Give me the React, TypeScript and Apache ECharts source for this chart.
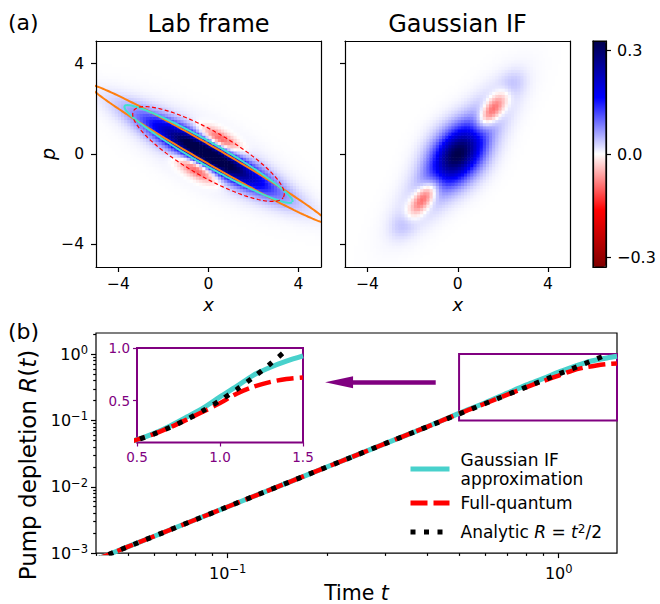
import React, { useEffect, useRef } from 'react';
import * as echarts from 'echarts';

const FONT = 'DejaVu Sans';
const PURPLE = '#800080';

// ---------- Panel (a): Wigner functions, described by Gaussian components
// [centerX, centerP, angleDeg, sigmaAlong, sigmaAcross, amplitude]
const LAB_BLOBS = [
  [0, 0, -29, 2.1, 0.38, 0.33],
  [0, 0, -29, 2.2, 0.7, 0.06],
  [0.5, 0.65, -29, 0.7, 0.25, -0.15],
  [-0.5, -0.65, -29, 0.7, 0.25, -0.15],
];
const IF_BLOBS = [
  [0, 0, 52, 0.9, 0.7, 0.21],
  [0, 0, 52, 2.0, 0.62, 0.12],
  [1.51, 1.93, 52, 0.65, 0.28, -0.15],
  [-1.51, -1.93, 52, 0.65, 0.28, -0.15],
  [2.42, 3.1, 52, 0.45, 0.35, 0.03],
  [-2.42, -3.1, 52, 0.45, 0.35, 0.03],
];
const CELL = 10 / 72;
const PHASE_RANGE = [-5, 5];
const PHASE_TICKS = [-4, 0, 4];
// ellipses in the lab frame: [semiMajor, semiMinor, angleDeg]
const ORANGE_ELLIPSE = [6.1, 0.38, -29.9];
const CYAN_ELLIPSE = [4.29, 0.5, -29.6];
const RED_ELLIPSE = [3.84, 1.0, -29.8];

const CBAR_RANGE = [-0.3275, 0.3275];
const CBAR_TICKS = [-0.3, 0, 0.3];

// ---------- Panel (b): pump depletion
const T_VALUES = [0.04, 0.05, 0.07, 0.1, 0.15, 0.2, 0.3, 0.4, 0.5, 0.6, 0.7, 0.8, 0.9, 1.0, 1.1, 1.2, 1.3, 1.4, 1.5];
const R_GAUSSIAN = [0.0008, 0.00125, 0.00245, 0.005, 0.01125, 0.02, 0.045, 0.08, 0.128, 0.185, 0.258, 0.343, 0.43, 0.535, 0.635, 0.74, 0.815, 0.875, 0.925];
const R_FULL = [0.0008, 0.00125, 0.00245, 0.005, 0.01125, 0.02, 0.045, 0.08, 0.127, 0.18, 0.245, 0.318, 0.395, 0.475, 0.565, 0.63, 0.675, 0.705, 0.72];
const T_ANALYTIC = [0.04, 0.05, 0.07, 0.1, 0.15, 0.2, 0.3, 0.4, 0.5, 0.6, 0.7, 0.8, 0.9, 1.0, 1.1, 1.2, 1.3, 1.4, 1.414];
const R_ANALYTIC = [0.0008, 0.00125, 0.00245, 0.005, 0.01125, 0.02, 0.045, 0.08, 0.125, 0.18, 0.245, 0.32, 0.405, 0.5, 0.605, 0.72, 0.845, 0.98, 1.0];

const T_RANGE = [0.04, 1.5];
const R_RANGE = [0.001, 2.08];
const T_MAJOR = [0.1, 1];
const T_MINOR = [0.04, 0.05, 0.06, 0.07, 0.08, 0.09, 0.2, 0.3, 0.4, 0.5, 0.6, 0.7, 0.8, 0.9];
const R_MAJOR = [0.001, 0.01, 0.1, 1];
const R_MINOR = [0.002, 0.003, 0.004, 0.005, 0.006, 0.007, 0.008, 0.009, 0.02, 0.03, 0.04, 0.05, 0.06, 0.07, 0.08, 0.09, 0.2, 0.3, 0.4, 0.5, 0.6, 0.7, 0.8, 0.9, 2];

const INSET_T_RANGE = [0.5, 1.5];
const INSET_R_RANGE = [0.1, 1.0];
const INSET_T_TICKS = [0.5, 1.0, 1.5];
const INSET_R_TICKS = [0.5, 1.0];

const ARROW_FROM = [0.425, 0.376];
const ARROW_TO = [0.217, 0.376];

const NAMES = ['Gaussian IF approximation', 'Full-quantum', 'Analytic R = t^2/2'];

function buildField(blobs: number[][]) {
  const out: number[][] = [];
  const n = Math.round((PHASE_RANGE[1] - PHASE_RANGE[0]) / CELL);
  for (let i = 0; i < n; i++) {
    for (let j = 0; j < n; j++) {
      const x = PHASE_RANGE[0] + CELL * (i + 0.5);
      const p = PHASE_RANGE[0] + CELL * (j + 0.5);
      let w = 0;
      for (const [cx, cp, ang, su, sv, amp] of blobs) {
        const th = (ang * Math.PI) / 180;
        const dx = x - cx, dp = p - cp;
        const u = dx * Math.cos(th) + dp * Math.sin(th);
        const v = -dx * Math.sin(th) + dp * Math.cos(th);
        w += amp * Math.exp(-(u * u) / (2 * su * su) - (v * v) / (2 * sv * sv));
      }
      out.push([x, p, w]);
    }
  }
  return out;
}

function ellipse(e: number[]) {
  const [a, b, ang] = e;
  const th = (ang * Math.PI) / 180;
  const pts: number[][] = [];
  for (let k = 0; k <= 240; k++) {
    const s = (2 * Math.PI * k) / 240;
    const u = a * Math.cos(s), v = b * Math.sin(s);
    pts.push([u * Math.cos(th) - v * Math.sin(th), u * Math.sin(th) + v * Math.cos(th)]);
  }
  return pts;
}

const minus = (v: number) => (v < 0 ? '\u2212' + String(Math.abs(v)) : String(v));
const minus1 = (v: number) => (Math.abs(v) < 1e-9 ? '0.0' : v < 0 ? '\u2212' + Math.abs(v).toFixed(1) : v.toFixed(1));
const pow10 = (v: number) => {
  const e = Math.round(Math.log10(v));
  return `{b|10}{s|${e < 0 ? '\u2212' + -e : e}}`;
};
const powRich = {
  b: { fontSize: 16, fontFamily: FONT, color: '#000', lineHeight: 20 },
  s: { fontSize: 11.5, fontFamily: FONT, color: '#000', verticalAlign: 'top', lineHeight: 12 },
};

const heatRender = (params: any, api: any) => {
  const x = api.value(0), p = api.value(1);
  const a = api.coord([x - CELL / 2, p + CELL / 2]);
  const b = api.coord([x + CELL / 2, p - CELL / 2]);
  return {
    type: 'rect',
    shape: { x: a[0], y: a[1], width: b[0] - a[0] + 0.6, height: b[1] - a[1] + 0.6 },
    style: { fill: api.visual('color') },
  };
};

const lineBlack = { color: '#000', width: 1.2 };

function phaseX(gridIndex: number, pos: string, withTicks: boolean) {
  return {
    type: 'value', gridIndex, min: PHASE_RANGE[0], max: PHASE_RANGE[1], position: pos, z: 5,
    axisLine: { show: true, onZero: false, lineStyle: lineBlack },
    axisTick: { show: withTicks, length: 5, customValues: PHASE_TICKS, lineStyle: lineBlack },
    axisLabel: { show: withTicks, customValues: PHASE_TICKS, formatter: minus, margin: 9, lineHeight: 16, color: '#000', fontSize: 15.5, fontFamily: FONT },
    splitLine: { show: false },
    name: withTicks ? 'x' : '', nameLocation: 'middle', nameGap: 30,
    nameTextStyle: { fontSize: 18, lineHeight: 15, fontStyle: 'italic', fontFamily: FONT, color: '#000' },
  };
}
function phaseY(gridIndex: number, pos: string, withTicks: boolean, withLabels: boolean) {
  return {
    type: 'value', gridIndex, min: PHASE_RANGE[0], max: PHASE_RANGE[1], position: pos, z: 5,
    axisLine: { show: true, onZero: false, lineStyle: lineBlack },
    axisTick: { show: withTicks, length: 5, customValues: PHASE_TICKS, lineStyle: lineBlack },
    axisLabel: { show: withLabels, customValues: PHASE_TICKS, formatter: minus, margin: 12, color: '#000', fontSize: 15.5, fontFamily: FONT },
    splitLine: { show: false },
    name: withLabels ? 'p' : '', nameLocation: 'middle', nameGap: 25,
    nameTextStyle: { fontSize: 19, fontStyle: 'italic', fontFamily: FONT, color: '#000' },
  };
}
function cbarAxis(kind: 'x' | 'y', pos: string, ticks: boolean) {
  return {
    type: 'value', gridIndex: 2, position: pos, z: 10,
    min: kind === 'y' ? CBAR_RANGE[0] : 0, max: kind === 'y' ? CBAR_RANGE[1] : 1,
    axisLine: { show: true, onZero: false, lineStyle: lineBlack },
    axisTick: { show: ticks, length: 5, customValues: CBAR_TICKS, lineStyle: lineBlack },
    axisLabel: { show: ticks, customValues: CBAR_TICKS, formatter: minus1, margin: 11, color: '#000', fontSize: 16, fontFamily: FONT },
    splitLine: { show: false },
  };
}
function logAxis(range: number[], major: boolean, ticks: number[], pos: string, name: string, nameGap: number, nameSize: number, namePadding: number[]) {
  return {
    type: 'log', gridIndex: 3, min: range[0], max: range[1], position: pos,
    axisLine: { show: false },
    axisTick: { show: true, length: major ? 5 : 2.8, customValues: ticks, lineStyle: lineBlack },
    axisLabel: { show: major, customValues: ticks, formatter: pow10, rich: powRich, margin: pos === 'bottom' ? 10 : 8 },
    splitLine: { show: false }, minorTick: { show: false },
    name: major ? name : '', nameLocation: 'middle', nameGap,
    nameTextStyle: {
      fontSize: nameSize, fontFamily: FONT, color: '#000', padding: namePadding,
      rich: { i: { fontStyle: 'italic', fontSize: nameSize, fontFamily: FONT, color: '#000' } },
    },
  };
}
function insetAxis(range: number[], ticks: number[], pos: string) {
  return {
    type: 'value', gridIndex: 4, min: range[0], max: range[1], position: pos,
    axisLine: { show: false },
    axisTick: { show: true, length: 4, customValues: ticks, lineStyle: { color: PURPLE, width: 1.2 } },
    axisLabel: { show: true, customValues: ticks, formatter: (v: number) => v.toFixed(1), margin: 7, color: PURPLE, fontSize: 13.5, fontFamily: FONT },
    splitLine: { show: false },
  };
}

const zip = (a: number[], b: number[]) => a.map((v, i) => [v, b[i]]);

const legendBase = (name: string, top: number, text: string, type: any) => ({
  data: [name], left: 408, top, orient: 'vertical', padding: 0, itemWidth: 39, itemHeight: 14, selectedMode: false,
  formatter: () => text,
  textStyle: {
    fontSize: 17, lineHeight: 19, fontFamily: FONT, color: '#000', padding: [0, 0, 0, 6],
    rich: {
      i: { fontSize: 17, fontStyle: 'italic', fontFamily: FONT, color: '#000', lineHeight: 19 },
      s: { fontSize: 12, fontFamily: FONT, color: '#000', verticalAlign: 'top', lineHeight: 12 },
    },
  },
  itemStyle: { opacity: 0, borderWidth: 0 },
  lineStyle: { width: 5, type, cap: 'butt' },
});

export default function App() {
  const ref = useRef<HTMLDivElement>(null);
  useEffect(() => {
    if (!ref.current) return;
    const chart = echarts.init(ref.current, null, { renderer: 'svg' });
    const labField = buildField(LAB_BLOBS);
    const ifField = buildField(IF_BLOBS);

    const option: any = {
      animation: false,
      backgroundColor: '#fff',
      textStyle: { fontFamily: FONT },
      grid: [
        { left: 96, top: 41, width: 225, height: 226 },
        { left: 345, top: 41, width: 225.5, height: 226 },
        { left: 593, top: 41, width: 13, height: 226 },
        { left: 96, top: 333, width: 521, height: 226, show: true, borderColor: '#000', borderWidth: 1.2, backgroundColor: 'transparent' },
        { left: 137, top: 348, width: 166, height: 94.5, show: true, borderColor: PURPLE, borderWidth: 2, backgroundColor: '#fff' },
      ],
      xAxis: [
        phaseX(0, 'bottom', true),
        phaseX(0, 'top', false),
        phaseX(1, 'bottom', true),
        phaseX(1, 'top', false),
        cbarAxis('x', 'bottom', false),
        cbarAxis('x', 'top', false),
        logAxis(T_RANGE, true, T_MAJOR, 'bottom', 'Time {i|t}', 25, 20.5, [0, 0, 0, 0]),
        logAxis(T_RANGE, false, T_MINOR, 'bottom', '', 0, 20, [0, 0, 0, 0]),
        insetAxis(INSET_T_RANGE, INSET_T_TICKS, 'bottom'),
      ],
      yAxis: [
        phaseY(0, 'left', true, true),
        phaseY(0, 'right', false, false),
        phaseY(1, 'left', true, false),
        phaseY(1, 'right', false, false),
        cbarAxis('y', 'left', false),
        cbarAxis('y', 'right', true),
        logAxis(R_RANGE, true, R_MAJOR, 'left', 'Pump depletion {i|R}({i|t})', 56, 23, [0, 44, 0, 0]),
        logAxis(R_RANGE, false, R_MINOR, 'left', '', 0, 20, [0, 0, 0, 0]),
        insetAxis(INSET_R_RANGE, INSET_R_TICKS, 'left'),
      ],
      visualMap: {
        type: 'continuous', min: CBAR_RANGE[0], max: CBAR_RANGE[1], seriesIndex: [0, 1], dimension: 2,
        inRange: { color: ['#800000', '#ff0000', '#ffffff', '#0000ff', '#00004c'] },
        left: 593, top: 41, itemWidth: 13, itemHeight: 226, padding: 0, calculable: false, hoverLink: false,
        orient: 'vertical', show: true, borderWidth: 0,
      },
      legend: [
        legendBase(NAMES[0], 450, 'Gaussian IF\napproximation', 'solid'),
        legendBase(NAMES[1], 493.5, 'Full-quantum', [17, 6]),
        legendBase(NAMES[2], 522.5, 'Analytic {i|R} = {i|t}{s|2}/2', [5, 8.5]),
      ],
      graphic: [
        { type: 'text', x: 8, y: 22, style: { text: '(a)', font: `22px "${FONT}"`, fill: '#000', textAlign: 'left', textVerticalAlign: 'middle', align: 'left', verticalAlign: 'middle' } },
        { type: 'text', x: 8, y: 331, style: { text: '(b)', font: `22px "${FONT}"`, fill: '#000', textAlign: 'left', textVerticalAlign: 'middle', align: 'left', verticalAlign: 'middle' } },
        { type: 'text', x: 208.5, y: 23.5, style: { text: 'Lab frame', font: `24px "${FONT}"`, fill: '#000', textAlign: 'center', textVerticalAlign: 'middle', align: 'center', verticalAlign: 'middle' } },
        { type: 'text', x: 457.5, y: 23.5, style: { text: 'Gaussian IF', font: `24px "${FONT}"`, fill: '#000', textAlign: 'center', textVerticalAlign: 'middle', align: 'center', verticalAlign: 'middle' } },
        { type: 'rect', z: 20, silent: true, shape: { x: 593, y: 41, width: 13, height: 226 }, style: { fill: 'none', stroke: '#000', lineWidth: 1.2 } },
      ],
      series: [
        { type: 'custom', name: 'lab', xAxisIndex: 0, yAxisIndex: 0, data: labField, renderItem: heatRender, clip: true, silent: true, z: 1 },
        { type: 'custom', name: 'if', xAxisIndex: 2, yAxisIndex: 2, data: ifField, renderItem: heatRender, clip: true, silent: true, z: 1 },
        { type: 'line', name: 'orange', xAxisIndex: 0, yAxisIndex: 0, data: ellipse(ORANGE_ELLIPSE), symbol: 'none', clip: true, silent: true, z: 3, lineStyle: { color: '#ff7f0e', width: 2 } },
        { type: 'line', name: 'cyanEll', xAxisIndex: 0, yAxisIndex: 0, data: ellipse(CYAN_ELLIPSE), symbol: 'none', clip: true, silent: true, z: 3, lineStyle: { color: '#40e0d0', width: 2 } },
        { type: 'line', name: 'redEll', xAxisIndex: 0, yAxisIndex: 0, data: ellipse(RED_ELLIPSE), symbol: 'none', clip: true, silent: true, z: 3, lineStyle: { color: '#ff0000', width: 1.2, type: [4, 2.5] } },

        { type: 'line', name: NAMES[0], xAxisIndex: 6, yAxisIndex: 6, data: zip(T_VALUES, R_GAUSSIAN), symbol: 'none', smooth: 0.3, clip: true, silent: true, z: 3, lineStyle: { color: '#48d1cc', width: 5, cap: 'butt' }, itemStyle: { color: '#48d1cc' } },
        {
          type: 'line', name: NAMES[1], xAxisIndex: 6, yAxisIndex: 6, data: zip(T_VALUES, R_FULL), symbol: 'none', smooth: 0.3, clip: true, silent: true, z: 4,
          lineStyle: { color: '#ff0000', width: 4.5, type: [17, 6], cap: 'butt' }, itemStyle: { color: '#ff0000' },
          markArea: { silent: true, label: { show: false }, itemStyle: { color: 'rgba(0,0,0,0)', borderColor: PURPLE, borderWidth: 2 }, data: [[{ coord: [INSET_T_RANGE[0], INSET_R_RANGE[0]] }, { coord: [INSET_T_RANGE[1], INSET_R_RANGE[1]] }]] },
          markLine: { silent: true, symbol: ['none', 'triangle'], symbolSize: [12, 28], label: { show: false }, lineStyle: { color: PURPLE, width: 4.5, type: 'solid' }, itemStyle: { color: PURPLE }, data: [[{ coord: ARROW_FROM }, { coord: ARROW_TO }]] },
        },
        { type: 'line', name: NAMES[2], xAxisIndex: 6, yAxisIndex: 6, data: zip(T_ANALYTIC, R_ANALYTIC), symbol: 'none', clip: true, silent: true, z: 5, lineStyle: { color: '#000', width: 5, type: [5, 8.5], cap: 'butt' }, itemStyle: { color: '#000' } },

        { type: 'line', name: 'inset-g', xAxisIndex: 8, yAxisIndex: 8, data: zip(T_VALUES, R_GAUSSIAN), symbol: 'none', smooth: 0.3, clip: true, silent: true, z: 3, lineStyle: { color: '#48d1cc', width: 5, cap: 'butt' } },
        { type: 'line', name: 'inset-f', xAxisIndex: 8, yAxisIndex: 8, data: zip(T_VALUES, R_FULL), symbol: 'none', smooth: 0.3, clip: true, silent: true, z: 4, lineStyle: { color: '#ff0000', width: 4.5, type: [17, 6], cap: 'butt' } },
        { type: 'line', name: 'inset-a', xAxisIndex: 8, yAxisIndex: 8, data: zip(T_ANALYTIC, R_ANALYTIC), symbol: 'none', smooth: 0.3, clip: true, silent: true, z: 5, lineStyle: { color: '#000', width: 5, type: [5, 8.5], cap: 'butt' } },
      ],
    };
    chart.setOption(option);
    return () => chart.dispose();
  }, []);
  return <div ref={ref} style={{ position: 'fixed', left: 0, top: 0, width: 660, height: 604, background: '#fff' }} />;
}
